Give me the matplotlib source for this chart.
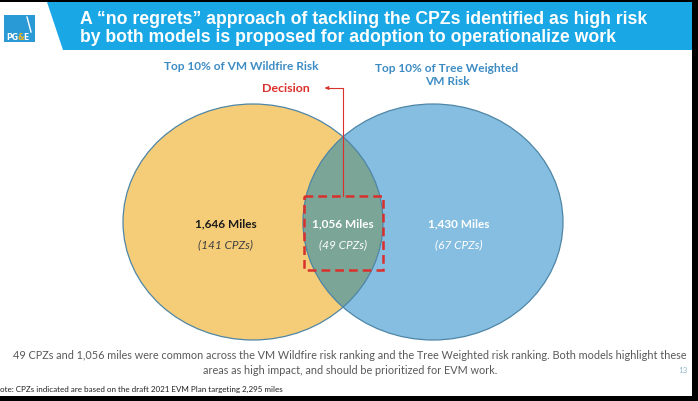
import matplotlib.pyplot as plt
from matplotlib.patches import Ellipse, Rectangle, Polygon

# Данные диаграммы
set_names = ['Top 10% of VM Wildfire Risk', 'Top 10% of Tree Weighted\nVM Risk']
region_miles = [1646, 1056, 1430]   # только левый, пересечение, только правый
region_cpzs = [141, 49, 67]
title_lines = ['A \u201cno regrets\u201d approach of tackling the CPZs identified as high risk',
               'by both models is proposed for adoption to operationalize work']
footer_lines = ['49 CPZs and 1,056 miles were common across the VM Wildfire risk ranking and the Tree Weighted risk ranking. Both models highlight these',
                'areas as high impact, and should be prioritized for EVM work.']
footnote = 'ote: CPZs indicated are based on the draft 2021 EVM Plan targeting 2,295 miles'
page_number = '13'

yellow = '#F5CD78'
blue = '#86BEE1'
overlap = '#7BA596'
edge = '#4F86A6'
red = '#D9302C'
title_blue = '#19A7E6'
label_blue = '#3D8CC4'

fig = plt.figure(figsize=(6.98, 4.02), dpi=100)
ax = fig.add_axes([0, 0, 1, 1])
ax.set_xlim(0, 698)
ax.set_ylim(402, 0)
ax.set_aspect('auto')
ax.axis('off')

# Шапка слайда
ax.add_patch(Polygon([(47, 3), (692, 3), (692, 51), (63, 51)], closed=True,
                     facecolor=title_blue, edgecolor='none'))
for i, line in enumerate(title_lines):
    ax.text(80, 19 + i * 19, line, color='white', fontsize=12.7, fontweight='bold',
            family='Liberation Sans', ha='left', va='center')

# Логотип
ax.add_patch(Rectangle((4, 16), 31, 27, facecolor='#2A9AD6', edgecolor='none'))
ax.plot([27, 31], [18, 33], color='white', lw=1)
ax.text(6, 38, 'PG', color='white', fontsize=5.5, fontweight='bold', va='center', ha='left')
ax.text(17, 38, '&', color='#F2B41C', fontsize=5.5, fontweight='bold', va='center', ha='left')
ax.text(23, 38, 'E', color='white', fontsize=5.5, fontweight='bold', va='center', ha='left')

# Эллипсы диаграммы Венна
left_c, right_c, cy = 253, 433, 223
rx, ry = 130, 118
left = Ellipse((left_c, cy), 2 * rx, 2 * ry, facecolor=yellow, edgecolor='none', zorder=2)
right = Ellipse((right_c, cy), 2 * rx, 2 * ry, facecolor=blue, edgecolor='none', zorder=2)
ax.add_patch(left)
ax.add_patch(right)
mid = Ellipse((right_c, cy), 2 * rx, 2 * ry, facecolor=overlap, edgecolor='none', zorder=3)
ax.add_patch(mid)
mid.set_clip_path(left)
for c in (left_c, right_c):
    ax.add_patch(Ellipse((c, cy), 2 * rx, 2 * ry, facecolor='none', edgecolor=edge, lw=0.9, zorder=4))

# Подписи множеств
ax.text(241, 67, set_names[0], color=label_blue, fontsize=8.6, fontweight='bold',
        family='Lato', ha='center', va='center')
ax.text(447, 75, set_names[1], color=label_blue, fontsize=8.6, fontweight='bold',
        family='Lato', ha='center', va='center', linespacing=1.3)

# Подписи областей
xs = [226, 343, 459]
colors = ['#1A1A1A', 'white', 'white']
sub_colors = ['#404040', 'white', 'white']
for x, miles, cpz, c, sc in zip(xs, region_miles, region_cpzs, colors, sub_colors):
    ax.text(x, 224, f'{miles:,} Miles', color=c, fontsize=8.5, fontweight='bold',
            family='Lato', ha='center', va='center', zorder=6)
    ax.text(x, 245, f'({cpz} CPZs)', color=sc, fontsize=8.6, style='italic',
            family='Lato', ha='center', va='center', zorder=6)

# Пунктирная рамка и стрелка "Decision"
ax.add_patch(Rectangle((304, 197), 79, 74, facecolor='none', edgecolor=red, lw=1.8,
                       linestyle=(0, (3.5, 2)), zorder=7))
ax.plot([343, 343, 327], [197, 89, 89], color=red, lw=0.8, zorder=7)
ax.annotate('', xy=(322, 89), xytext=(330, 89),
            arrowprops=dict(arrowstyle='-|>', color=red, lw=0.8, mutation_scale=5), zorder=7)
ax.text(286, 89, 'Decision', color=red, fontsize=8.9, fontweight='bold',
        family='Lato', ha='center', va='center')

# Нижний текст
ax.text(350, 356, footer_lines[0], color='#595959', fontsize=7.85, family='Lato',
        ha='center', va='center')
ax.text(350, 371, footer_lines[1], color='#595959', fontsize=7.85, family='Lato',
        ha='center', va='center')
ax.text(683, 371, page_number, color='#8FB8CC', fontsize=5.8, family='Lato',
        ha='center', va='center')
ax.text(0, 389, footnote, color='#222222', fontsize=5.8, family='Lato',
        ha='left', va='center')

# Чёрные края скриншота
ax.add_patch(Rectangle((0, 0), 698, 3, facecolor='black', edgecolor='none', zorder=10))
ax.add_patch(Rectangle((692, 0), 6, 402, facecolor='black', edgecolor='none', zorder=10))
ax.add_patch(Rectangle((0, 397), 698, 5, facecolor='black', edgecolor='none', zorder=10))

fig.savefig('out.png', dpi=100)
